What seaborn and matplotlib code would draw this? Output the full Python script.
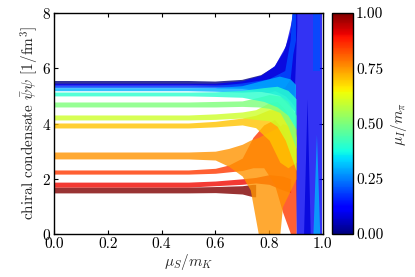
import numpy as np
import matplotlib
matplotlib.use("Agg")
import matplotlib.pyplot as plt
import seaborn as sns

sns.set_style("ticks", {"axes.edgecolor": "black", "xtick.color": "black", "ytick.color": "black"})
plt.rcParams["font.family"] = ["cmr10", "DejaVu Serif"]
plt.rcParams["mathtext.fontset"] = "cm"
plt.rcParams["axes.formatter.use_mathtext"] = True

nan = np.nan

# uncertainty bands of the chiral condensate, one per mu_I/m_pi value
x_000 = [0, 0.5, 0.6, 0.7, 0.77, 0.82, 0.855, 0.88, 0.895, 0.905, 0.91, 0.93, 0.943, 0.955]
lo_000 = [5.40, 5.40, 5.38, 5.38, 5.35, 5.30, 5.20, 5.10, 5.00, 7.50, nan, 0, 0, 0]
hi_000 = [5.54, 5.54, 5.52, 5.58, 5.75, 6.05, 6.60, 7.30, 8.50, 8.50, nan, 0, 4.9, 0]

x_010 = [0, 0.5, 0.6, 0.7, 0.77, 0.82, 0.86, 0.88, 0.895, 0.9, 0.995]
lo_010 = [5.36, 5.36, 5.34, 5.30, 5.25, 5.20, 5.00, 4.80, 4.60, 0, 0]
hi_010 = [5.46, 5.46, 5.46, 5.55, 5.75, 6.10, 6.80, 7.60, 8.50, 8.5, 8.5]

x_020 = [0, 0.5, 0.6, 0.7, 0.8, 0.86, 0.88, 0.89, 0.9, 0.91, 0.955, 0.962, 0.99]
lo_020 = [5.28, 5.28, 5.27, 5.25, 5.10, 5.30, 5.60, 6.50, 7.00, nan, nan, 5.9, 5.9]
hi_020 = [5.36, 5.36, 5.36, 5.45, 5.60, 5.90, 7.00, 8.50, 8.50, nan, nan, 8.5, 8.5]

x_030 = [0, 0.5, 0.6, 0.7, 0.78, 0.84, 0.88, 0.9, 0.93, 0.965, 0.978, 0.99]
lo_030 = [5.17, 5.17, 5.15, 5.12, 5.15, 5.00, 4.60, 4.40, nan, 0, 0, 0]
hi_030 = [5.28, 5.28, 5.28, 5.35, 5.55, 5.70, 5.60, 5.40, nan, 0, 3.6, 0]

x_040 = [0, 0.5, 0.6, 0.7, 0.78, 0.83, 0.87, 0.9]
lo_040 = [5.00, 5.00, 4.98, 4.95, 4.80, 4.60, 4.30, 3.80]
hi_040 = [5.14, 5.14, 5.15, 5.20, 5.30, 5.35, 5.20, 4.90]

x_050 = [0, 0.5, 0.6, 0.7, 0.76, 0.8, 0.84, 0.87, 0.9]
lo_050 = [4.60, 4.60, 4.60, 4.62, 4.60, 4.55, 4.40, 3.90, 3.10]
hi_050 = [4.78, 4.78, 4.80, 4.82, 4.95, 5.05, 5.00, 4.80, 4.30]

x_060 = [0, 0.5, 0.6, 0.7, 0.75, 0.8, 0.83, 0.86, 0.89, 0.9]
lo_060 = [4.13, 4.13, 4.15, 4.20, 4.15, 4.10, 3.90, 3.40, 2.60, 2.30]
hi_060 = [4.31, 4.31, 4.35, 4.42, 4.50, 4.75, 4.80, 4.50, 3.90, 3.50]

x_070 = [0, 0.5, 0.6, 0.7, 0.75, 0.8, 0.84, 0.87, 0.9]
lo_070 = [3.84, 3.84, 3.88, 3.95, 3.85, 3.40, 2.60, 2.40, 2.60]
hi_070 = [4.02, 4.02, 4.08, 4.20, 4.30, 4.50, 4.50, 4.30, 3.80]

x_075 = [0, 0.5, 0.6, 0.65, 0.7, 0.73, 0.76, 0.84, 0.85, 0.88, 0.9]
lo_075 = [2.72, 2.72, 2.68, 2.45, 2.10, 1.60, 0, 0, 1.00, 1.60, 2.00]
hi_075 = [2.97, 2.97, 3.00, 3.10, 3.25, 3.40, 3.50, 3.90, 4.00, 3.90, 3.60]

x_085 = [0, 0.5, 0.6, 0.65, 0.7, 0.74, 0.78, 0.82, 0.85, 0.88, 0.9]
lo_085 = [2.17, 2.17, 2.20, 2.25, 2.30, 2.40, 2.40, 1.80, 0.80, 0, 0]
hi_085 = [2.32, 2.32, 2.38, 2.50, 2.75, 3.50, 3.95, 4.15, 3.80, 3.20, 2.80]

x_090 = [0, 0.5, 0.6, 0.7, 0.75, 0.8, 0.85, 0.88]
lo_090 = [1.70, 1.70, 1.75, 1.80, 1.85, 1.80, 1.60, 1.50]
hi_090 = [1.88, 1.88, 1.92, 2.00, 2.05, 2.15, 2.10, 2.00]

x_100 = [0, 0.5, 0.6, 0.7, 0.74, 0.75]
lo_100 = [1.49, 1.49, 1.50, 1.45, 1.35, 1.35]
hi_100 = [1.70, 1.70, 1.72, 1.75, 1.80, 1.80]

mu_values = [0.0, 0.1, 0.2, 0.3, 0.4, 0.5, 0.6, 0.7, 0.75, 0.85, 0.9, 1.0]
xs = [x_000, x_010, x_020, x_030, x_040, x_050, x_060, x_070, x_075, x_085, x_090, x_100]
los = [lo_000, lo_010, lo_020, lo_030, lo_040, lo_050, lo_060, lo_070, lo_075, lo_085, lo_090, lo_100]
his = [hi_000, hi_010, hi_020, hi_030, hi_040, hi_050, hi_060, hi_070, hi_075, hi_085, hi_090, hi_100]

# cold bands first (low mu on the bottom), warm bands after (high mu on the bottom)
draw_order = [0, 1, 2, 3, 11, 10, 9, 8, 7, 6, 5, 4]

fig = plt.figure(figsize=(4.15, 2.77), dpi=100)
ax = fig.add_axes([0.130, 0.155, 0.648, 0.798])
cax = fig.add_axes([0.800, 0.155, 0.051, 0.798])

cmap = plt.get_cmap("jet")
norm = matplotlib.colors.Normalize(0, 1)
for i in draw_order:
    ax.fill_between(xs[i], los[i], his[i], color=cmap(norm(mu_values[i])), alpha=0.8, lw=0)

ax.set_xlim(0, 1)
ax.set_ylim(0, 8)
ax.set_xticks([0, 0.2, 0.4, 0.6, 0.8, 1.0])
ax.set_xticklabels(["0.0", "0.2", "0.4", "0.6", "0.8", "1.0"])
ax.tick_params(direction="in", top=True, right=True, labelsize=11, length=3, width=0.8, pad=2)
for s in ax.spines.values():
    s.set_linewidth(1.0)
ax.set_xlabel(r"$\mu_S/m_K$", fontsize=11, labelpad=1)
ax.set_ylabel(r"chiral condensate $\bar{\psi}\psi$ [$1/\mathrm{fm}^3$]", fontsize=11, labelpad=1)

sm = matplotlib.cm.ScalarMappable(norm=norm, cmap=cmap)
cb = fig.colorbar(sm, cax=cax, ticks=[0, 0.25, 0.5, 0.75, 1.0], format="%.2f")
cb.ax.tick_params(labelsize=11, length=0, pad=2)
cb.outline.set_linewidth(1.0)
cb.set_label(r"$\mu_I/m_\pi$", fontsize=11)

fig.savefig("out.png", dpi=100)
